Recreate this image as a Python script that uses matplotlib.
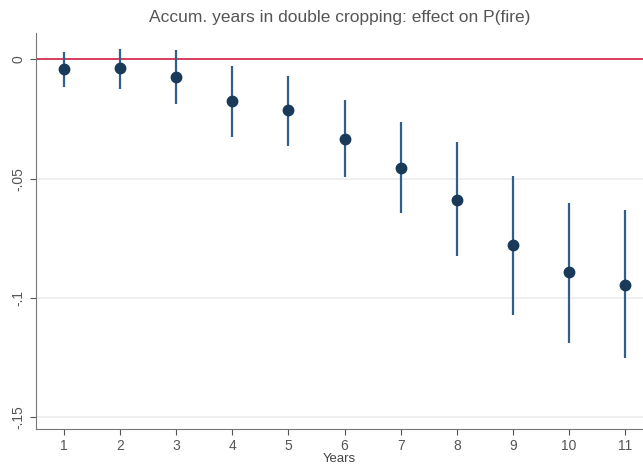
import numpy as np
import matplotlib.pyplot as plt

plt.rcParams['font.family'] = ['Liberation Sans', 'DejaVu Sans']

years = [1, 2, 3, 4, 5, 6, 7, 8, 9, 10, 11]
coef = [-0.0040, -0.0036, -0.0073, -0.0175, -0.0214, -0.0333, -0.0455, -0.0588, -0.0777, -0.0893, -0.0944]
ci_hi = [0.0030, 0.0044, 0.0040, -0.0030, -0.0068, -0.0169, -0.0262, -0.0348, -0.0488, -0.0600, -0.0630]
ci_lo = [-0.0115, -0.0123, -0.0186, -0.0324, -0.0362, -0.0494, -0.0646, -0.0825, -0.1070, -0.1190, -0.1253]
yticks = [0, -0.05, -0.1, -0.15]
ylabels = ["0", "-.05", "-.1", "-.15"]

coef = np.array(coef)
ci_hi = np.array(ci_hi)
ci_lo = np.array(ci_lo)

fig = plt.figure(figsize=(6.43, 4.66), dpi=100)
ax = fig.add_axes([0.056, 0.079, 0.944, 0.850])

for y in yticks[1:]:
    ax.axhline(y, color="#ececec", lw=1.2, zorder=0)
ax.axhline(0, color="#d01c44", lw=1.2, zorder=1)

ax.vlines(years, ci_lo, ci_hi, color="#2f5f8f", lw=1.6, zorder=2)
ax.plot(years, coef, "o", color="#1a3a5a", ms=7.5, zorder=3)

ax.set_xlim(0.5, 11.32)
ax.set_ylim(-0.155, 0.011)
ax.set_xticks(years)
ax.set_yticks(yticks)
ax.set_yticklabels(ylabels, rotation=90, va="center")

for s in ["top", "right"]:
    ax.spines[s].set_visible(False)
for s in ["left", "bottom"]:
    ax.spines[s].set_color("#777777")
ax.tick_params(colors="#555555", labelsize=10, length=4)
ax.tick_params(axis="x", pad=3)

ax.set_xlabel("Years", color="#444444", fontsize=9.5, labelpad=0)
ax.set_title("Accum. years in double cropping: effect on P(fire)", color="#555555", fontsize=12.5, pad=8)

fig.savefig("out.png", dpi=100)
